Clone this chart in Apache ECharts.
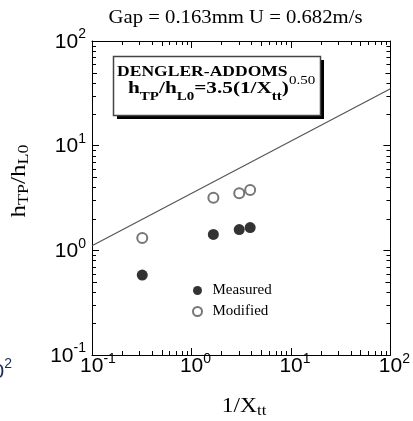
<!DOCTYPE html>
<html>
<head>
<meta charset="utf-8">
<script src="https://cdn.jsdelivr.net/npm/echarts@6/dist/echarts.min.js"></script>
<style>
  html, body { margin: 0; padding: 0; background: #fff; }
  #chart { width: 413px; height: 421px; }
</style>
</head>
<body>
<div id="chart"></div>
<script>
// Two-phase heat transfer ratio vs. Lockhart-Martinelli parameter
const recipXtt = [0.32, 1.66, 3.02, 3.89];
const measured = [0.58, 1.42, 1.58, 1.65];
const modified = [1.31, 3.18, 3.51, 3.78];

// Dengler-Addoms correlation, h_TP/h_L0 = 3.5 (1/X_tt)^0.50, at the axis ends
const corrX = [0.1, 100];
const corrY = [1.107, 35.0];

// Axis ranges (decades)
const xRange = [0.1, 100];
const yRange = [0.1, 100];

const serif = 'Liberation Serif';
const sans = 'Liberation Sans';

function zip(a, b) { return a.map((v, i) => [v, b[i]]); }

function minorValues(lo, hi) {
  const out = [];
  for (let d = lo; d < hi * 0.999; d *= 10) {
    for (let k = 2; k <= 9; k++) out.push(k * d);
  }
  return out;
}

function powLabel(v, padded) {
  const e = Math.round(Math.log10(v));
  const pad = padded ? (e < 0 ? '{pw|}' : '{pn|}') : '';
  return pad + '{b|10}{s|' + e + '}';
}

const labelRich = {
  b: { fontFamily: sans, fontSize: 21, color: '#000', lineHeight: 25, verticalAlign: 'bottom' },
  s: { fontFamily: sans, fontSize: 14, color: '#000', lineHeight: 14, verticalAlign: 'top' },
  pn: { width: 8 },
  pw: { width: 12 }
};

const chart = echarts.init(document.getElementById('chart'), null, { renderer: 'canvas' });

const baseAxis = {
  type: 'log',
  logBase: 10,
  splitLine: { show: false },
  axisLine: { show: true, lineStyle: { color: '#000', width: 1 } },
  axisTick: { show: true, inside: true, length: 7, lineStyle: { color: '#000', width: 1 } },
  minorTick: { show: false }
};

chart.setOption({
  animation: false,
  backgroundColor: '#fff',
  grid: { left: 92, top: 41, width: 301, height: 314, containLabel: false },
  xAxis: [
    Object.assign({}, baseAxis, {
      min: xRange[0], max: xRange[1], position: 'bottom',
      axisLabel: { show: true, margin: -3, formatter: v => powLabel(v, true), rich: labelRich }
    }),
    Object.assign({}, baseAxis, {
      min: xRange[0], max: xRange[1], position: 'top', axisLabel: { show: false }
    })
  ],
  yAxis: [
    Object.assign({}, baseAxis, {
      min: yRange[0], max: yRange[1], position: 'left',
      axisLabel: { show: true, margin: 6, padding: [0, 0, 2, 0], formatter: v => powLabel(v, false), rich: labelRich }
    }),
    Object.assign({}, baseAxis, {
      min: yRange[0], max: yRange[1], position: 'right', axisLabel: { show: false }
    })
  ],
  legend: {
    data: ['Measured', 'Modified'],
    orient: 'vertical',
    left: 187, top: 278,
    itemWidth: 20, itemHeight: 9, itemGap: 6,
    textStyle: { fontFamily: serif, fontSize: 15, color: '#000' },
    selectedMode: false
  },
  series: [
    {
      name: 'Dengler-Addoms',
      type: 'line',
      data: zip(corrX, corrY),
      showSymbol: false,
      silent: true,
      lineStyle: { color: '#555', width: 1.2 },
      z: 2
    },
    {
      name: 'Measured',
      type: 'scatter',
      data: zip(recipXtt, measured),
      symbol: 'circle',
      symbolSize: 11,
      itemStyle: { color: '#000' },
      z: 3
    },
    {
      name: 'Modified',
      type: 'scatter',
      data: zip(recipXtt, modified),
      symbol: 'emptyCircle',
      symbolSize: 10,
      itemStyle: { color: '#555', borderWidth: 1.3 },
      z: 3
    },
    {
      // minor log ticks (2..9 in each decade) on all four frame sides
      name: 'minor-ticks',
      type: 'custom',
      silent: true,
      data: [[1, 1]],
      z: 1,
      renderItem: function (params, api) {
        const bl = api.coord([xRange[0], yRange[0]]);
        const tr = api.coord([xRange[1], yRange[1]]);
        const left = bl[0], bottom = bl[1], right = tr[0], top = tr[1];
        const children = [];
        const st = { stroke: '#000', lineWidth: 1 };
        const lenFor = v => (Math.round(v / Math.pow(10, Math.floor(Math.log10(v) + 1e-9))) === 5) ? 5 : 4;
        minorValues(xRange[0], xRange[1]).forEach(v => {
          const px = Math.round(api.coord([v, 1])[0]) + 0.5;
          const len = lenFor(v);
          children.push({ type: 'line', shape: { x1: px, y1: bottom, x2: px, y2: bottom - len }, style: st });
          children.push({ type: 'line', shape: { x1: px, y1: top, x2: px, y2: top + len }, style: st });
        });
        minorValues(yRange[0], yRange[1]).forEach(v => {
          const py = Math.round(api.coord([1, v])[1]) + 0.5;
          const len = lenFor(v);
          children.push({ type: 'line', shape: { x1: left, y1: py, x2: left + len, y2: py }, style: st });
          children.push({ type: 'line', shape: { x1: right, y1: py, x2: right - len, y2: py }, style: st });
        });
        return { type: 'group', children: children };
      }
    }
  ],
  graphic: [
    // title
    {
      type: 'text', x: 235.5, y: 18, scaleX: 1.15,
      style: {
        text: 'Gap = 0.163mm U = 0.682m/s', x: 0, y: 0,
        textAlign: 'center', textVerticalAlign: 'middle',
        fontFamily: serif, fontSize: 18, fill: '#000'
      }
    },
    // correlation box with drop shadow
    { type: 'rect', shape: { x: 117, y: 60, width: 207, height: 59 }, style: { fill: '#000' }, z: 10 },
    { type: 'rect', shape: { x: 113.5, y: 56.5, width: 207, height: 59 }, style: { fill: '#fff', stroke: '#444', lineWidth: 1.5 }, z: 11 },
    {
      type: 'text', x: 117, y: 72, scaleX: 1.17, z: 12,
      style: {
        text: 'DENGLER-ADDOMS', x: 0, y: 0, textVerticalAlign: 'middle',
        fontFamily: serif, fontSize: 15, fontWeight: 'bold', fill: '#000'
      }
    },
    {
      type: 'text', x: 128, y: 89, scaleX: 1.25, z: 12,
      style: {
        text: '{m|h}{sub|TP}{m|/h}{sub|L0}{m|=3.5(1/X}{sub|tt}{m|)}{sup|0.50}',
        x: 0, y: 0, textVerticalAlign: 'middle',
        rich: {
          m: { fontFamily: serif, fontSize: 17, fontWeight: 'bold', fill: '#000', lineHeight: 28, verticalAlign: 'middle' },
          sub: { fontFamily: serif, fontSize: 12, fontWeight: 'bold', fill: '#000', lineHeight: 16, verticalAlign: 'bottom' },
          sup: { fontFamily: serif, fontSize: 12, fill: '#000', lineHeight: 12, verticalAlign: 'top' }
        }
      }
    },
    // y axis title
    {
      type: 'text', x: 19, y: 181, rotation: Math.PI / 2, scaleX: 1.2,
      style: {
        text: '{m|h}{sub|TP}{m|/h}{sub|L0}', x: 0, y: 0,
        textAlign: 'center', textVerticalAlign: 'middle',
        rich: {
          m: { fontFamily: serif, fontSize: 21, fill: '#000', lineHeight: 26, verticalAlign: 'middle' },
          sub: { fontFamily: serif, fontSize: 15, fill: '#000', lineHeight: 15, verticalAlign: 'bottom' }
        }
      }
    },
    // x axis title
    {
      type: 'text', x: 244, y: 406, scaleX: 1.12,
      style: {
        text: '{m|1/X}{sub|tt}', x: 0, y: 0,
        textAlign: 'center', textVerticalAlign: 'middle',
        rich: {
          m: { fontFamily: serif, fontSize: 21, fill: '#000', lineHeight: 26, verticalAlign: 'middle' },
          sub: { fontFamily: serif, fontSize: 15, fill: '#000', lineHeight: 15, verticalAlign: 'bottom' }
        }
      }
    },
    // tick label of the neighbouring panel at the left edge
    {
      type: 'text', x: 12, y: 370,
      style: {
        text: '{b|10}{s|2}', x: 0, y: 0, textAlign: 'right', textVerticalAlign: 'middle',
        rich: {
          b: { fontFamily: sans, fontSize: 21, fill: '#1c2d5a', lineHeight: 25, verticalAlign: 'bottom' },
          s: { fontFamily: sans, fontSize: 14, fill: '#1c2d5a', lineHeight: 14, verticalAlign: 'top' }
        }
      }
    }
  ]
});
</script>
</body>
</html>
